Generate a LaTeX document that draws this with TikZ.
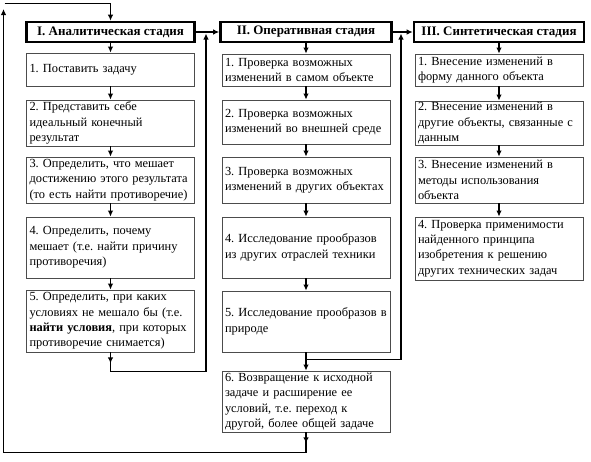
\documentclass[tikz,border=0pt]{standalone}
\usepackage{fontspec}
\setmainfont{Liberation Serif}
\newfontfamily\lserif{Liberation Serif}
\frenchspacing
\usetikzlibrary{arrows.meta,calc}
\tikzset{
  box/.style={draw=black!70, line width=0.8pt, inner xsep=3pt, inner ysep=0pt,
    align=left, font=\lserif\fontsize{12.4}{15.3}\selectfont\frenchspacing},
  hdr/.style={draw=black, line width=2.6pt, inner sep=0pt, align=center,
    font=\lserif\fontsize{13}{15}\selectfont\bfseries, minimum height=20pt},
  cone/.style={box, text width=162pt, minimum height=#1},
  conn/.style={line width=1.2pt, draw=black},
  arr/.style={conn, -{Latex[length=6pt,width=5.5pt]}}
}
\begin{document}
\begin{tikzpicture}[x=1pt,y=-1pt]
\useasboundingbox (0,0) rectangle (591,461);
% column I
\node[hdr, minimum width=168pt] (H1) at (110.5,32) {I. Аналитическая стадия};
\node[cone=33pt] (A1) at (110.5,69.5) {1. Поставить задачу};
\node[cone=46pt] (A2) at (110.5,123) {2. Представить себе\\идеальный конечный\\результат};
\node[cone=46pt] (A3) at (110.5,180) {3. Определить, что мешает\\достижению этого результата\\(то есть найти противоречие)};
\node[cone=61pt] (A4) at (110.5,247.5) {4. Определить, почему\\мешает (т.е. найти причину\\противоречия)};
\node[cone=62pt] (A5) at (110.5,321) {5. Определить, при каких\\условиях не мешало бы (т.е.\\\mbox{\textbf{найти условия}, при которых}\\противоречие снимается)};
% column II
\node[hdr, minimum width=171pt] (H2) at (306,32) {II. Оперативная стадия};
\node[cone=32pt] (B1) at (306,70) {1. Проверка возможных\\изменений в самом объекте};
\node[cone=44pt] (B2) at (306,122) {2. Проверка возможных\\изменений во внешней среде};
\node[cone=46pt] (B3) at (306,180) {3. Проверка возможных\\изменений в других объектах};
\node[cone=61pt] (B4) at (306,247.5) {4. Исследование прообразов\\из других отраслей техники};
\node[cone=61pt] (B5) at (306,321.5) {\mbox{5. Исследование прообразов в}\\природе};
\node[cone=61pt] (B6) at (306,401.5) {6. Возвращение к исходной\\задаче и расширение ее\\условий, т.е. переход к\\другой, более общей задаче};
% column III
\node[hdr, minimum width=170pt] (H3) at (499,32) {III. Синтетическая стадия};
\node[cone=32pt] (C1) at (499,70) {1. Внесение изменений в\\форму данного объекта};
\node[cone=44pt] (C2) at (499,123) {2. Внесение изменений в\\другие объекты, связанные с\\данным};
\node[cone=46pt] (C3) at (499,180) {3. Внесение изменений в\\методы использования\\объекта};
\node[cone=63pt] (C4) at (499,248.5) {4. Проверка применимости\\найденного принципа\\изобретения к решению\\других технических задач};
% coordinates for loops
\coordinate (j1) at (206,33.5);
\coordinate (j2) at (401,33.5);
\coordinate (lc) at (3.5,9);
\coordinate (tc) at (4.5,3.5);
% header links
\draw[arr] (H1.east) -- (H2.west);
\draw[arr] (H2.east) -- (H3.west);
% column arrows
\draw[arr] (H1.south) -- (A1.north);
\draw[arr] (A1.south) -- (A2.north);
\draw[arr] (A2.south) -- (A3.north);
\draw[arr] (A3.south) -- (A4.north);
\draw[arr] (A4.south) -- (A5.north);
\draw[arr] (H2.south) -- (B1.north);
\draw[arr] (B1.south) -- (B2.north);
\draw[arr] (B2.south) -- (B3.north);
\draw[arr] (B3.south) -- (B4.north);
\draw[arr] (B4.south) -- (B5.north);
\draw[arr] (B5.south) -- (B6.north);
\draw[arr] (H3.south) -- (C1.north);
\draw[arr] (C1.south) -- (C2.north);
\draw[arr] (C2.south) -- (C3.north);
\draw[arr] (C3.south) -- (C4.north);
% loop from I.5 to II
\draw[arr] (A5.south) -- ++(0,11);
\draw[arr] (A5.south) -- ++(0,19) -| (j1);
% loop from II.5 to III
\draw[arr] ($(B5.south)+(0,7)$) -| (j2);
% loop from II.6 back to I
\draw[arr] (B6.south) -- ++(0,11);
\draw[arr] (B6.south) -- ++(0,20) -| (lc);
\draw[arr] (tc) -| (H1.north);
\end{tikzpicture}
\end{document}
